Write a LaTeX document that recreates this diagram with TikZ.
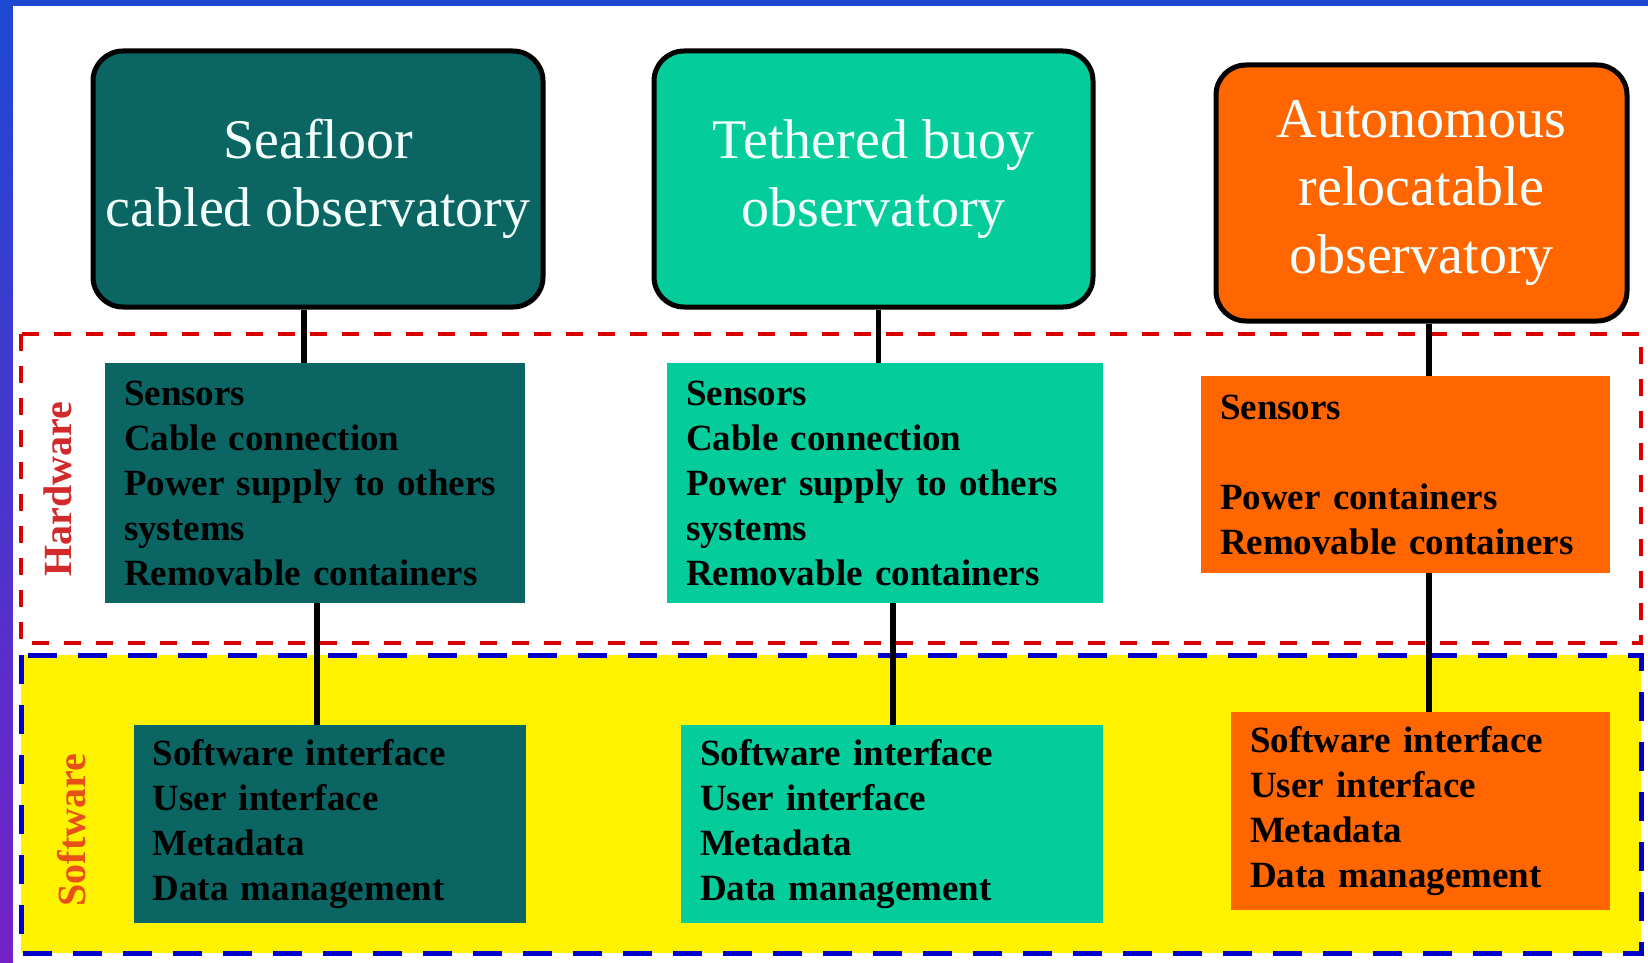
\documentclass[tikz,border=0pt]{standalone}
\usepackage{fontspec}
\setmainfont{Liberation Serif}
\usepackage{tikz}

\definecolor{seateal}{HTML}{0B6663}
\definecolor{buoyteal}{HTML}{05CC9B}
\definecolor{autoorange}{HTML}{FF6600}
\definecolor{hwred}{HTML}{D22A2A}
\definecolor{swred}{HTML}{E8501A}
\definecolor{frametop}{HTML}{1E48D2}
\definecolor{framebot}{HTML}{7422C6}
\definecolor{titlewhite}{HTML}{F2FFFC}

\tikzset{
	obsbox/.style={draw=black, line width=2.5pt, rounded corners=15pt, align=center, text=titlewhite, font=\fontsize{28}{34}\selectfont},
	itembox/.style={inner xsep=9.5pt, align=left, text=black, font=\fontsize{18.5}{22.5}\selectfont\bfseries},
	sidelabel/.style={rotate=90, font=\fontsize{20}{24}\selectfont\bfseries},
	link/.style={line width=2.6pt},
}

\begin{document}
\begin{tikzpicture}[x=0.5pt,y=-0.5pt]
		\useasboundingbox (0, 0) rectangle (1648, 963);
		\shade[top color=frametop, bottom color=framebot] (0, 0) rectangle (1648, 963);
		\fill[white] (12.5, 6) rectangle (1648, 963);
		%%%%%%%%%%%%%
		\filldraw[fill = white, draw = red!85!black, line width = 2pt, dash pattern = on 8.5pt off 7.5pt] (21, 334) rectangle (1641, 643);
		\filldraw[fill = yellow, draw = blue!80!black, line width = 2.5pt, dash pattern = on 14.5pt off 10.5pt] (21, 655) rectangle (1641, 953);
		\node[sidelabel, text = hwred] (hw) at (58, 489) {Hardware};
		\node[sidelabel, text = swred] (sw) at (71.5, 830) {Software};
		%%%%%%%%%%%%%
		\node[obsbox, fill = seateal, minimum width = 225pt, minimum height = 128pt] (sea) at (318, 179) {Seafloor\\cabled observatory};
		\node[obsbox, fill = buoyteal, minimum width = 219.5pt, minimum height = 128pt] (buoy) at (873.5, 179) {Tethered buoy\\observatory};
		\node[obsbox, fill = autoorange, minimum width = 205.5pt, minimum height = 128pt] (auto) at (1421.5, 193) {Autonomous\\relocatable\\observatory};
		%%%%%%%%%%%%%
		\node[itembox, fill = seateal, text width = 191pt, minimum height = 120pt] (hwA) at (315, 483) {Sensors\\Cable connection\\Power supply to others\\systems\\Removable containers};
		\node[itembox, fill = buoyteal, text width = 199pt, minimum height = 120pt] (hwB) at (885, 483) {Sensors\\Cable connection\\Power supply to others\\systems\\Removable containers};
		\node[itembox, fill = autoorange, text width = 185.5pt, minimum height = 98.5pt] (hwC) at (1405.5, 474.5) {Sensors\\~\\Power containers\\Removable containers};
		%%%%%%%%%%%%%
		\node[itembox, fill = seateal, text width = 177pt, minimum height = 99pt] (swA) at (329.5, 824) {Software interface\\User interface\\Metadata\\Data management};
		\node[itembox, fill = buoyteal, text width = 192pt, minimum height = 99pt] (swB) at (892, 824) {Software interface\\User interface\\Metadata\\Data management};
		\node[itembox, fill = autoorange, text width = 170.5pt, minimum height = 99pt] (swC) at (1420.5, 811) {Software interface\\User interface\\Metadata\\Data management};
		%%%%%%%%%%%%%
		\coordinate (seaout) at ([xshift = -7pt] sea.south);
		\coordinate (buoyout) at ([xshift = 2.5pt] buoy.south);
		\coordinate (autoout) at ([xshift = 3.75pt] auto.south);
		\coordinate (hwAout) at ([xshift = 1pt] hwA.south);
		\coordinate (hwBout) at ([xshift = 4pt] hwB.south);
		\coordinate (hwCout) at ([xshift = 11.75pt] hwC.south);
		\draw[link] (seaout) to (seaout |- hwA.north);
		\draw[link] (buoyout) to (buoyout |- hwB.north);
		\draw[link] (autoout) to (autoout |- hwC.north);
		\draw[link] (hwAout) to (hwAout |- swA.north);
		\draw[link] (hwBout) to (hwBout |- swB.north);
		\draw[link] (hwCout) to (hwCout |- swC.north);
	\end{tikzpicture}
\end{document}
